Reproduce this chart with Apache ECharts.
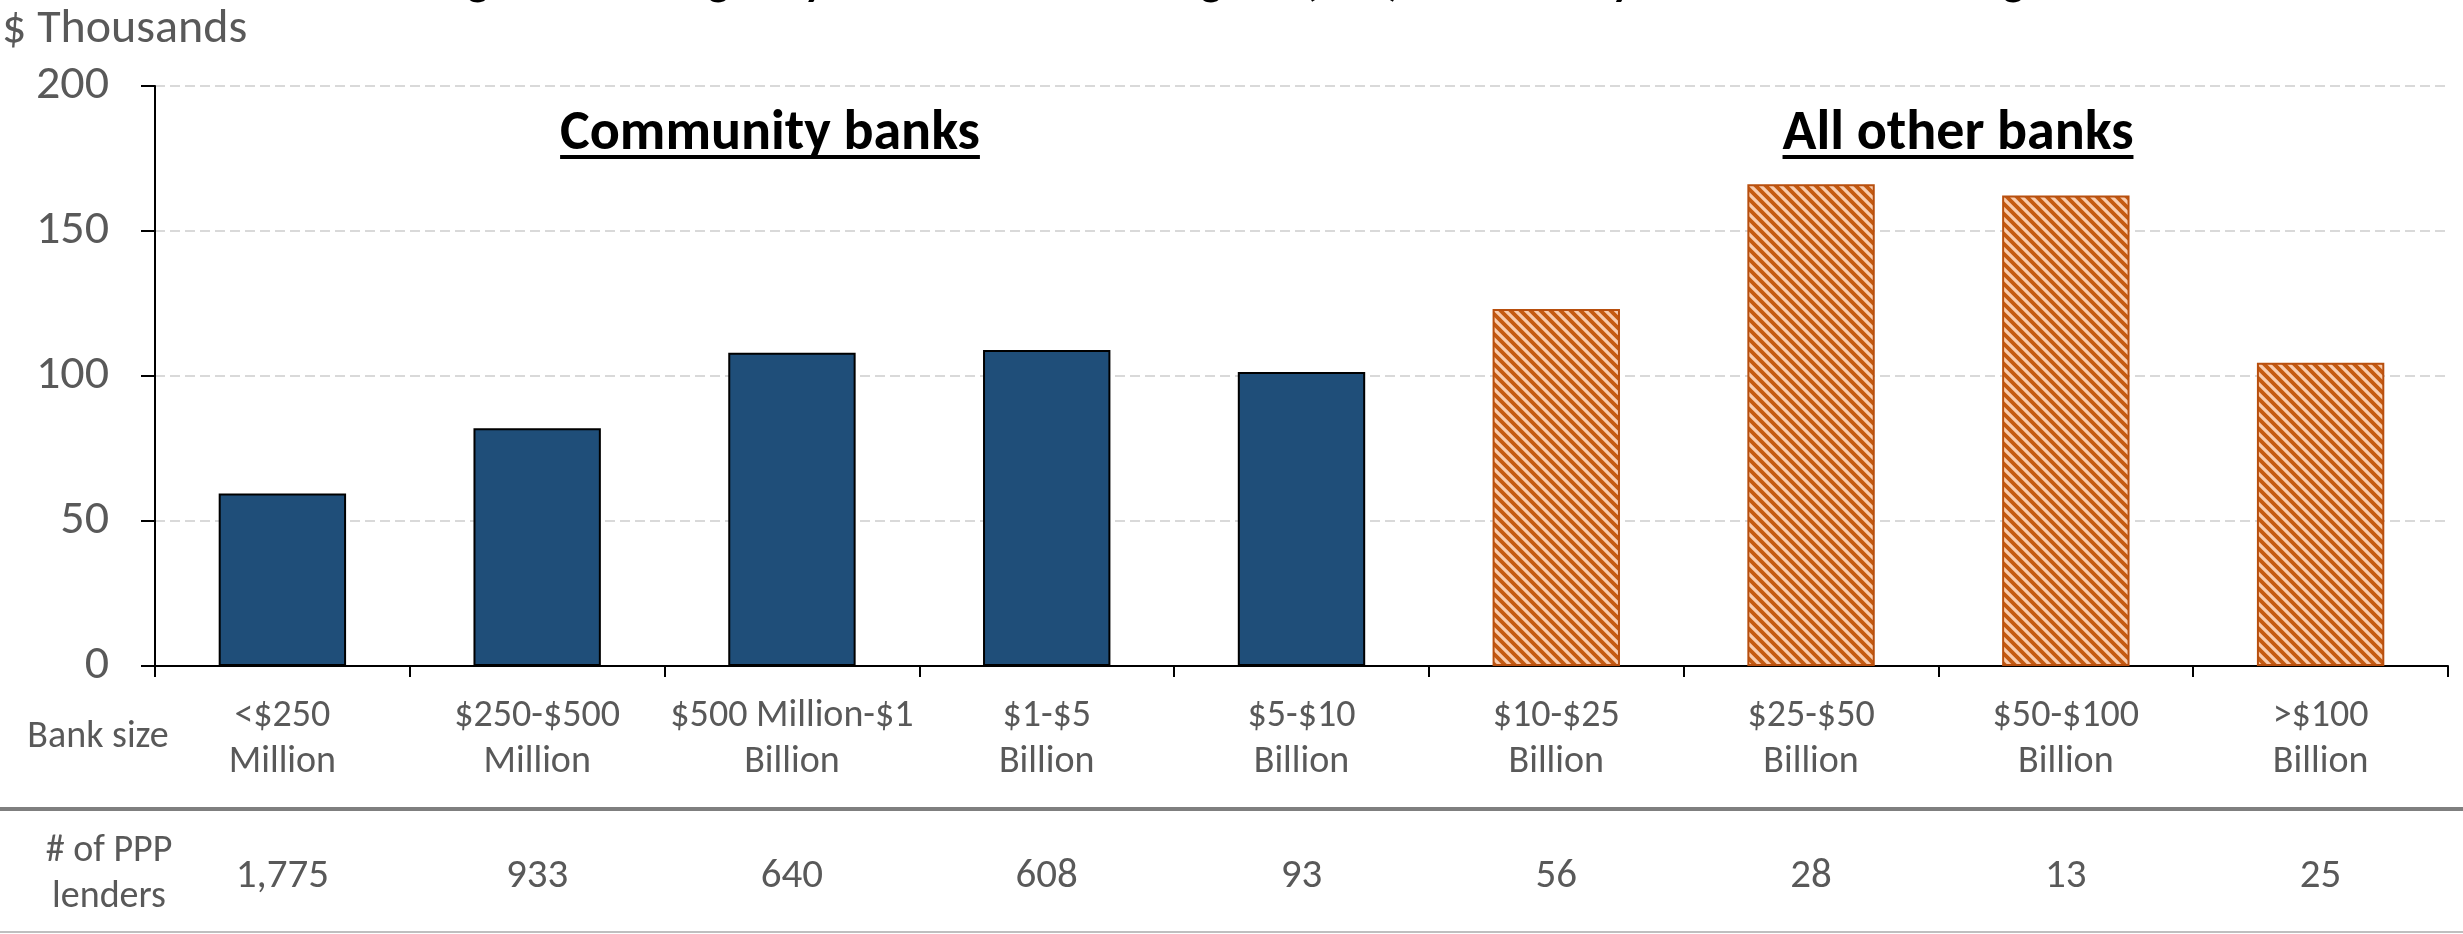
<!DOCTYPE html>
<html><head><meta charset="utf-8">
<script src="https://cdn.jsdelivr.net/npm/echarts@6/dist/echarts.min.js"></script>
<style>html,body{margin:0;padding:0;background:#fff}#c{width:2463px;height:934px}</style>
</head><body><div id="c"></div>
<script>
// ---- data ----
const titleText = 'Figure 1: Average Paycheck Protection Program (PPP) Loan Size by Bank Asset Size Range';
const yUnit = '$ Thousands';
const categories = ['<$250\nMillion', '$250-$500\nMillion', '$500 Million-$1\nBillion', '$1-$5\nBillion', '$5-$10\nBillion', '$10-$25\nBillion', '$25-$50\nBillion', '$50-$100\nBillion', '>$100\nBillion'];
const communityValues = [59.5, 82, 108, 109, 101.4, '-', '-', '-', '-'];
const otherValues = ['-', '-', '-', '-', '-', 123.1, 166.1, 162.2, 104.6];
const lenders = [1775, 933, 640, 608, 93, 56, 28, 13, 25];
const yMin = 0, yMax = 200, yInterval = 50;
const groupLabels = ['Community banks', 'All other banks'];
const rowLabels = ['Bank size', '# of PPP\nlenders'];

// ---- style ----
const FONT = 'Carlito, "Liberation Sans", Arial, sans-serif';
const GRAY = '#595959';

function hatch() {
  const s = 10, c = document.createElement('canvas');
  c.width = s; c.height = s;
  const g = c.getContext('2d');
  g.fillStyle = '#F8CBAD'; g.fillRect(0, 0, s, s);
  g.strokeStyle = '#C55A11'; g.lineWidth = 3.8; g.lineCap = 'square';
  g.beginPath();
  for (const o of [-s, 0, s]) { g.moveTo(o - 2, -2); g.lineTo(o + s + 2, s + 2); }
  g.stroke();
  return c;
}
function textWidth(txt, font) {
  const c = document.createElement('canvas').getContext('2d');
  c.font = font; return c.measureText(txt).width;
}

const chart = echarts.init(document.getElementById('c'), null, {renderer: 'canvas'});
const groupFont = 'bold 56px ' + FONT;
const groupX = [770, 1958];
const graphics = [
  {type: 'text', x: 1241, y: 6, style: {text: titleText, font: 'bold 44px ' + FONT, fill: '#000', align: 'center', verticalAlign: 'bottom'}},
  {type: 'text', x: 2, y: 30, style: {text: yUnit, font: '48px ' + FONT, fill: GRAY, align: 'left', verticalAlign: 'middle'}},
  {type: 'text', x: 98, y: 737, style: {text: rowLabels[0], font: '38px ' + FONT, fill: GRAY, align: 'center', verticalAlign: 'middle'}},
  {type: 'text', x: 109, y: 874, style: {text: rowLabels[1], font: '38px ' + FONT, fill: GRAY, align: 'center', verticalAlign: 'middle', lineHeight: 46}},
  {type: 'rect', shape: {x: 0, y: 807, width: 2463, height: 4}, style: {fill: '#7F7F7F'}},
  {type: 'rect', shape: {x: 0, y: 931, width: 2463, height: 2}, style: {fill: '#BFBFBF'}}
];
groupLabels.forEach((t, i) => {
  const w = textWidth(t, groupFont);
  graphics.push({type: 'text', x: groupX[i], y: 135, style: {text: t, font: groupFont, fill: '#000', align: 'center', verticalAlign: 'middle'}});
  graphics.push({type: 'rect', shape: {x: groupX[i] - w / 2, y: 155, width: w, height: 4}, style: {fill: '#000'}});
});

chart.setOption({
  animation: false,
  backgroundColor: '#fff',
  grid: {left: 155, right: 15, top: 86, bottom: 268, containLabel: false},
  xAxis: [{
    type: 'category', data: categories, position: 'bottom',
    axisLine: {lineStyle: {color: '#000', width: 2}},
    axisTick: {show: true, length: 11, lineStyle: {color: '#000', width: 2}},
    axisLabel: {interval: 0, margin: 27, color: GRAY, fontFamily: FONT, fontSize: 38, lineHeight: 46}
  }, {
    type: 'category', data: categories, position: 'bottom', offset: 180,
    axisLine: {show: false}, axisTick: {show: false},
    axisLabel: {interval: 0, margin: 10, color: GRAY, fontFamily: FONT, fontSize: 41, lineHeight: 41,
      formatter: (v, i) => lenders[i].toLocaleString('en-US')}
  }],
  yAxis: {
    type: 'value', min: yMin, max: yMax, interval: yInterval,
    axisLine: {show: true, lineStyle: {color: '#000', width: 2}},
    axisTick: {show: true, length: 14, lineStyle: {color: '#000', width: 2}},
    axisLabel: {margin: 46, color: GRAY, fontFamily: FONT, fontSize: 48},
    splitLine: {show: true, lineStyle: {color: '#D9D9D9', width: 2, type: [10, 5]}}
  },
  series: [{
    type: 'bar', name: 'Community banks', data: communityValues, stack: 'all', barWidth: '50%',
    itemStyle: {color: '#1F4E79', borderColor: '#000', borderWidth: 2}
  }, {
    type: 'bar', name: 'All other banks', data: otherValues, stack: 'all', barWidth: '50%',
    itemStyle: {color: {image: hatch(), repeat: 'repeat'}, borderColor: '#B84F0E', borderWidth: 2}
  }],
  graphic: graphics
});
</script></body></html>
